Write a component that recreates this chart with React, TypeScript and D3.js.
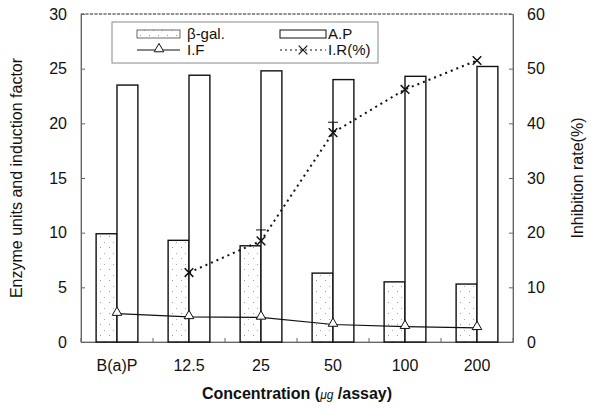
import React, { useEffect, useRef } from "react";
import * as d3 from "d3";

const categories = ["B(a)P", "12.5", "25", "50", "100", "200"];
const betaGal = [9.9, 9.3, 8.8, 6.3, 5.5, 5.3];
const alkP = [23.5, 24.4, 24.8, 24.0, 24.3, 25.2];
const inductionFactor = [2.6, 2.3, 2.25, 1.6, 1.4, 1.3];
// inhibition rate, no value for B(a)P
const inhibition = [null, 12.7, 18.5, 38.3, 46.2, 51.5];
const inhibitionErr = [null, 0, 2.0, 1.9, 0, 0];
const leftTicks = [0, 5, 10, 15, 20, 25, 30];
const rightTicks = [0, 10, 20, 30, 40, 50, 60];

export default function App() {
  const svgRef = useRef(null);

  useEffect(() => {
    const W = 600, H = 410;
    const m = { top: 14, right: 87, bottom: 68, left: 81 };
    const iw = W - m.left - m.right;
    const ih = H - m.top - m.bottom;

    const svg = d3.select(svgRef.current);
    svg.selectAll("*").remove();
    const font = "'Liberation Sans', Arial, sans-serif";

    const defs = svg.append("defs");
    const pat = defs.append("pattern")
      .attr("id", "dots")
      .attr("patternUnits", "userSpaceOnUse")
      .attr("width", 9).attr("height", 11);
    pat.append("rect").attr("width", 9).attr("height", 11).attr("fill", "#fff");
    pat.append("rect").attr("x", 1).attr("y", 2).attr("width", 1).attr("height", 1).attr("fill", "#999");
    pat.append("rect").attr("x", 5).attr("y", 8).attr("width", 1).attr("height", 1).attr("fill", "#aaa");

    const g = svg.append("g").attr("transform", `translate(${m.left},${m.top})`);

    const x = d3.scaleBand().domain(categories).range([0, iw]).paddingInner(0.42).paddingOuter(0.21);
    const y = d3.scaleLinear().domain([0, 30]).range([ih, 0]);
    const y2 = d3.scaleLinear().domain([0, 60]).range([ih, 0]);
    const bw = x.bandwidth() / 2;
    const cx = (c) => x(c) + x.bandwidth() / 2;

    // frame
    g.append("rect").attr("width", iw).attr("height", ih)
      .attr("fill", "none").attr("stroke", "#888").attr("stroke-width", 1);
    g.append("line").attr("x1", 0).attr("x2", iw).attr("y1", 0).attr("y2", 0)
      .attr("stroke", "#fff").attr("stroke-width", 1.5);
    g.append("line").attr("x1", 0).attr("x2", iw).attr("y1", 0).attr("y2", 0)
      .attr("stroke", "#333").attr("stroke-dasharray", "3,1.5").attr("stroke-width", 1);

    // axes
    const yAxis = g.append("g").call(d3.axisLeft(y).tickValues(leftTicks).tickSizeInner(-4).tickSizeOuter(0).tickPadding(14));
    const y2Axis = g.append("g").attr("transform", `translate(${iw},0)`)
      .call(d3.axisRight(y2).tickValues(rightTicks).tickSizeInner(-4).tickSizeOuter(0).tickPadding(14));
    const xAxis = g.append("g").attr("transform", `translate(0,${ih})`)
      .call(d3.axisBottom(x).tickSizeInner(0).tickSizeOuter(0).tickPadding(18));
    [yAxis, y2Axis, xAxis].forEach((a) => {
      a.select(".domain").attr("stroke", "#666");
      a.selectAll(".tick line").attr("stroke", "#666");
      a.selectAll("text").attr("font-family", font).attr("font-size", 16).attr("fill", "#111");
    });
    // small ticks on x axis, half a band apart
    const step = x.step();
    d3.range(0, categories.length * 2 + 1).forEach((i) => {
      const tx = (i * step) / 2;
      g.append("line").attr("x1", tx).attr("x2", tx)
        .attr("y1", ih).attr("y2", ih - 4).attr("stroke", "#666");
    });

    // bars
    g.selectAll(".bg").data(betaGal).join("rect")
      .attr("x", (d, i) => cx(categories[i]) - bw)
      .attr("y", (d) => y(d))
      .attr("width", bw).attr("height", (d) => ih - y(d))
      .attr("fill", "url(#dots)").attr("stroke", "#111").attr("stroke-width", 1.4);
    g.selectAll(".ap").data(alkP).join("rect")
      .attr("x", (d, i) => cx(categories[i]))
      .attr("y", (d) => y(d))
      .attr("width", bw).attr("height", (d) => ih - y(d))
      .attr("fill", "#fff").attr("stroke", "#111").attr("stroke-width", 1.4);

    // I.F line
    const line = d3.line().x((d, i) => cx(categories[i])).y((d) => y(d));
    g.append("path").datum(inductionFactor).attr("d", line)
      .attr("fill", "none").attr("stroke", "#111").attr("stroke-width", 1.2);
    const tri = d3.symbol().type(d3.symbolTriangle).size(40);
    g.selectAll(".tri").data(inductionFactor).join("path")
      .attr("d", tri)
      .attr("transform", (d, i) => `translate(${cx(categories[i])},${y(d) - 1})`)
      .attr("fill", "#fff").attr("stroke", "#111").attr("stroke-width", 1);

    // I.R line
    const irPts = inhibition.map((v, i) => ({ v, c: categories[i], e: inhibitionErr[i] })).filter((p) => p.v != null);
    const line2 = d3.line().x((p) => cx(p.c)).y((p) => y2(p.v));
    g.append("path").datum(irPts).attr("d", line2)
      .attr("fill", "none").attr("stroke", "#111").attr("stroke-width", 2)
      .attr("stroke-dasharray", "2,4");
    irPts.filter((p) => p.e > 0).forEach((p) => {
      g.append("line").attr("x1", cx(p.c)).attr("x2", cx(p.c))
        .attr("y1", y2(p.v)).attr("y2", y2(p.v + p.e)).attr("stroke", "#111");
      g.append("line").attr("x1", cx(p.c) - 5).attr("x2", cx(p.c) + 5)
        .attr("y1", y2(p.v + p.e)).attr("y2", y2(p.v + p.e)).attr("stroke", "#111");
    });
    const cross = d3.symbol().type(d3.symbolX).size(50);
    g.selectAll(".cr").data(irPts).join("path")
      .attr("d", cross)
      .attr("transform", (p) => `translate(${cx(p.c)},${y2(p.v)})`)
      .attr("fill", "none").attr("stroke", "#111").attr("stroke-width", 1.5);

    // legend
    const lg = svg.append("g").attr("transform", "translate(112,22)");
    lg.append("rect").attr("width", 266).attr("height", 41)
      .attr("fill", "#fff").attr("stroke", "#888");
    lg.append("rect").attr("x", 25).attr("y", 8).attr("width", 43).attr("height", 8)
      .attr("fill", "url(#dots)").attr("stroke", "#444").attr("stroke-width", 0.8);
    lg.append("rect").attr("x", 168).attr("y", 8).attr("width", 46).attr("height", 8)
      .attr("fill", "#fff").attr("stroke", "#111").attr("stroke-width", 1);
    lg.append("line").attr("x1", 25).attr("x2", 68).attr("y1", 28).attr("y2", 28).attr("stroke", "#111");
    lg.append("path").attr("d", tri).attr("transform", "translate(47,27)")
      .attr("fill", "#fff").attr("stroke", "#111");
    lg.append("line").attr("x1", 168).attr("x2", 214).attr("y1", 28).attr("y2", 28)
      .attr("stroke", "#111").attr("stroke-dasharray", "2,3");
    lg.append("path").attr("d", cross).attr("transform", "translate(191,28)")
      .attr("fill", "none").attr("stroke", "#111").attr("stroke-width", 1.2);
    const lt = [["β-gal.", 75, 17], ["A.P", 216, 17], ["I.F", 75, 33], ["I.R(%)", 216, 33]];
    lt.forEach(([t, tx, ty]) => {
      lg.append("text").attr("x", tx).attr("y", ty).text(t)
        .attr("font-family", font).attr("font-size", 15).attr("fill", "#111");
    });

    // axis titles
    svg.append("text").attr("transform", `translate(22,${m.top + ih / 2}) rotate(-90)`)
      .attr("text-anchor", "middle").attr("font-family", font).attr("font-size", 16).attr("fill", "#111")
      .text("Enzyme units and induction factor");
    svg.append("text").attr("transform", `translate(583,${m.top + ih / 2}) rotate(-90)`)
      .attr("text-anchor", "middle").attr("font-family", font).attr("font-size", 16).attr("fill", "#111")
      .text("Inhibition rate(%)");
    const xt = svg.append("text").attr("x", m.left + iw / 2).attr("y", 399)
      .attr("text-anchor", "middle").attr("font-family", font).attr("font-size", 16)
      .attr("font-weight", "bold").attr("fill", "#111");
    xt.append("tspan").text("Concentration (");
    xt.append("tspan").text("μg").attr("font-size", 12).attr("font-style", "italic").attr("font-weight", "normal");
    xt.append("tspan").text(" /assay)");
  }, []);

  return (
    <svg ref={svgRef} width={600} height={410} style={{ position: "absolute", left: 0, top: 0 }} />
  );
}
